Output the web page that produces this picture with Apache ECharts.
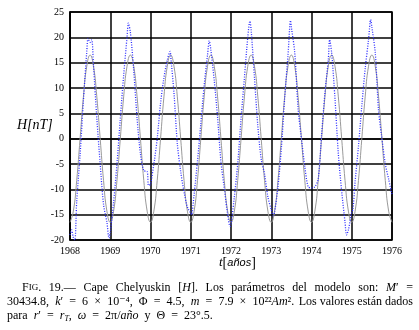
<!DOCTYPE html>
<html>
<head>
<meta charset="utf-8">
<script src="https://cdn.jsdelivr.net/npm/echarts@6/dist/echarts.min.js"></script>
<style>
html, body { margin: 0; padding: 0; background: #fff; }
#chart { width: 419px; height: 330px; }
</style>
</head>
<body>
<div id="chart"></div>
<script>
// axis ranges / ticks
const yearMin = 1968, yearMax = 1976;
const hMin = -20, hMax = 25, hStep = 5;

// observed H [nT], monthly samples starting 1968.0
const obsMonthly = [
  -19, -19.5, -12.4, -3.2, 7.5, 17.2, 19.0, 14.5, 4, -5, -13, -16.5,
  -18.5, -12.5, -5, 4, 12.5, 20, 21, 13.5, 4, -3, -6.3, -6.5,
  -9, -5, 0, 7, 12, 15.5, 16.5, 9, -1, -6.5, -10.5, -13.5,
  -14.7, -11, -4.5, 3, 10.5, 16.5, 17.5, 11.5, 4.2, -4.5, -9.8, -15,
  -17, -11.5, -5, 4, 12, 20, 21.5, 12, 2.5, -4, -7, -11.5,
  -14, -14.5, -9.5, -2, 8, 16.5, 22, 17, 6, 0, -5.5, -9.5,
  -9.7, -9.5, -8, 0.7, 9, 15.5, 17, 7.9, -3, -10.4, -16.5, -18,
  -14.5, -8.5, -1.5, 6.5, 13.8, 19.5, 22, 17, 5.5, 0, -5, -8,
  -11
];
// extra observed points at peaks and troughs [year, H]
const obsExtra = [
  [1968.04, -18], [1968.12, -20], [1968.45, 19.8], [1968.54, 19.5], [1968.97, -19.6],
  [1969.45, 22.8], [1969.95, -9.2], [1970.1, -4.2], [1970.49, 17.2], [1971.02, -15],
  [1971.46, 19.3], [1971.98, -17.3], [1972.47, 23.2], [1973.05, -15.2], [1973.48, 23.3],
  [1974.45, 19.5], [1974.87, -19], [1975.03, -14], [1975.47, 23.5]
];
// model H [nT], monthly samples starting 1968.0
const modelMonthly = [
  -16.5, -14.3, -8.25, 0, 8.25, 14.3, 16.5, 14.3, 8.25, 0, -8.25, -14.3,
  -16.5, -14.3, -8.25, 0, 8.25, 14.3, 16.5, 14.3, 8.25, 0, -8.25, -14.3,
  -16.5, -14.3, -8.25, 0, 8.25, 14.3, 16.5, 14.3, 8.25, 0, -8.25, -14.3,
  -16.5, -14.3, -8.25, 0, 8.25, 14.3, 16.5, 14.3, 8.25, 0, -8.25, -14.3,
  -16.5, -14.3, -8.25, 0, 8.25, 14.3, 16.5, 14.3, 8.25, 0, -8.25, -14.3,
  -16.5, -14.3, -8.25, 0, 8.25, 14.3, 16.5, 14.3, 8.25, 0, -8.25, -14.3,
  -16.5, -14.3, -8.25, 0, 8.25, 14.3, 16.5, 14.3, 8.25, 0, -8.25, -14.3,
  -16.5, -14.3, -8.25, 0, 8.25, 14.3, 16.5, 14.3, 8.25, 0, -8.25, -14.3,
  -16.5
];

const serif = '"Liberation Serif", "DejaVu Serif", serif';

const obsData = obsMonthly.map((v, i) => [yearMin + i / 12, v])
  .concat(obsExtra)
  .sort((a, b) => a[0] - b[0]);
const modelData = modelMonthly.map((v, i) => [yearMin + i / 12, v]);

// caption: lines of words, each word a list of [text, style] runs
const capRich = {
  n: { fontSize: 12, fontFamily: serif, lineHeight: 14, color: '#000' },
  it: { fontSize: 12, fontFamily: serif, fontStyle: 'italic', lineHeight: 14, color: '#000' },
  sc: { fontSize: 9, fontFamily: serif, lineHeight: 14, color: '#000' },
  sub: { fontSize: 8, fontFamily: serif, fontStyle: 'italic', lineHeight: 14, verticalAlign: 'bottom', color: '#000' }
};
// tail: trailing words set with normal spacing; gap: fixed gap instead of justifying
const capLines = [
  { x0: 22, x1: 413, y: 288, tail: 0, words: [
    [['F', 'n'], ['IG', 'sc'], ['.', 'n']], [['19.—', 'n']], [['Cape', 'n']], [['Chelyuskin', 'n']],
    [['[', 'n'], ['H', 'it'], ['].', 'n']], [['Los', 'n']], [['parámetros', 'n']], [['del', 'n']],
    [['modelo', 'n']], [['son:', 'n']], [['M', 'it'], ['′', 'n']], [['=', 'n']]
  ]},
  { x0: 7, x1: 413, y: 302, tail: 4, words: [
    [['30434.8,', 'n']], [['k', 'it'], ['′', 'n']], [['=', 'n']], [['6', 'n']], [['×', 'n']],
    [['10⁻⁴,', 'n']], [['Φ', 'n']], [['=', 'n']], [['4.5,', 'n']],
    [['m', 'it']], [['=', 'n']], [['7.9', 'n']], [['×', 'n']],
    [['10²²', 'n'], ['Am', 'it'], ['².', 'n']],
    [['Los', 'n']], [['valores', 'n']], [['están', 'n']], [['dados', 'n']]
  ]},
  { x0: 7, x1: 413, y: 316, gap: 6, words: [
    [['para', 'n']], [['r', 'it'], ['′', 'n']], [['=', 'n']], [['r', 'it'], ['T', 'sub'], [',', 'n']],
    [['ω', 'it']], [['=', 'n']], [['2π/', 'n'], ['año', 'it']], [['y', 'n']], [['Θ', 'n']],
    [['=', 'n']], [['23°.5.', 'n']]
  ]}
];

const ctx = document.createElement('canvas').getContext('2d');
function runWidth(t, s) {
  const r = capRich[s];
  ctx.font = (r.fontStyle || 'normal') + ' ' + r.fontSize + 'px ' + r.fontFamily;
  return ctx.measureText(t).width;
}
const space = runWidth(' ', 'n');
const captionEls = [];
function placeWord(w, x, y) {
  captionEls.push({
    type: 'text', x: x, y: y,
    style: {
      text: w.map(r => '{' + r[1] + '|' + r[0] + '}').join(''),
      rich: capRich, verticalAlign: 'middle'
    }
  });
}
capLines.forEach(line => {
  const widths = line.words.map(w => w.reduce((a, r) => a + runWidth(r[0], r[1]), 0));
  if (line.gap) {
    let x = line.x0;
    line.words.forEach((w, i) => { placeWord(w, x, line.y); x += widths[i] + line.gap; });
    return;
  }
  const n = line.words.length;
  const headN = n - line.tail;
  let end = line.x1;
  if (line.tail) {
    const tailW = widths.slice(headN).reduce((a, b) => a + b, 0) + space * (line.tail - 1);
    end = line.x1 - tailW - space * 1.5;
    let x = line.x1 - tailW;
    for (let i = headN; i < n; i++) { placeWord(line.words[i], x, line.y); x += widths[i] + space; }
  }
  const headW = widths.slice(0, headN).reduce((a, b) => a + b, 0);
  const gap = (end - line.x0 - headW) / (headN - 1);
  let x = line.x0;
  for (let i = 0; i < headN; i++) { placeWord(line.words[i], x, line.y); x += widths[i] + gap; }
});

const chart = echarts.init(document.getElementById('chart'));
const axisCommon = {
  axisTick: { show: false },
  axisLabel: { color: '#000', fontFamily: serif, fontSize: 10, margin: 6, formatter: v => String(v) },
  splitLine: { lineStyle: { color: '#000', width: 1.5 } }
};
chart.setOption({
  animation: false,
  backgroundColor: '#fff',
  grid: { left: 70, right: 27, top: 12, bottom: 90, show: true, borderColor: '#000', borderWidth: 1.5 },
  xAxis: Object.assign({
    type: 'value', min: yearMin, max: yearMax, interval: 1,
    axisLine: { lineStyle: { color: '#000', width: 1.5 } }
  }, axisCommon),
  yAxis: Object.assign({
    type: 'value', min: hMin, max: hMax, interval: hStep,
    axisLine: { show: true, lineStyle: { color: '#000', width: 1.5 } }
  }, axisCommon),
  series: [
    {
      name: 'modelo', type: 'line', data: modelData, smooth: true, showSymbol: false,
      lineStyle: { color: '#9a9a9a', width: 1 }, z: 3
    },
    {
      name: 'observado', type: 'line', data: obsData, smooth: 0.3, showSymbol: false,
      lineStyle: { color: '#2b2bff', width: 1.3, type: [1, 1.5] }, z: 4
    }
  ],
  graphic: [
    {
      type: 'text', x: 17, y: 125,
      style: { text: 'H[nT]', font: 'italic 14px ' + serif, fill: '#000', verticalAlign: 'middle' }
    },
    {
      type: 'text', x: 219, y: 263,
      style: {
        text: '{t|t}{b|[}{a|años}{b|]}',
        rich: {
          t: { fontSize: 13, fontFamily: serif, fontStyle: 'italic', color: '#000' },
          b: { fontSize: 14, fontFamily: serif, color: '#000' },
          a: { fontSize: 11, fontFamily: '"Liberation Sans", sans-serif', fontStyle: 'italic', color: '#000' }
        },
        verticalAlign: 'middle'
      }
    }
  ].concat(captionEls)
});
</script>
</body>
</html>
